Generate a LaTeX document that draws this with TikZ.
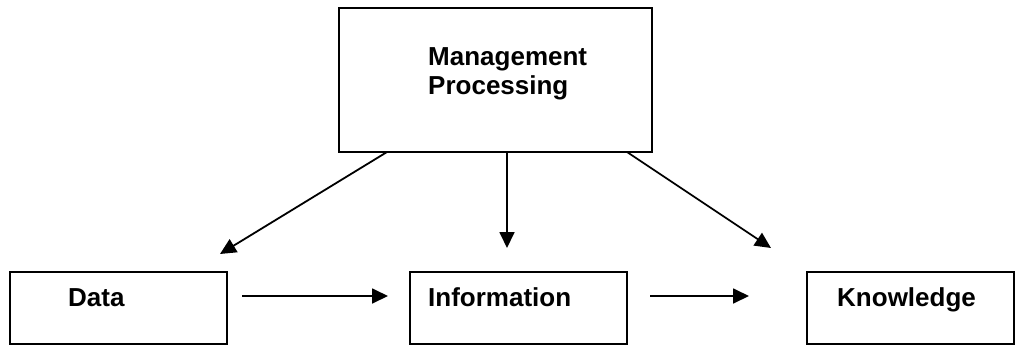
\documentclass[tikz,border=0pt]{standalone}
\usepackage{fontspec}
\setmainfont{Liberation Sans}
\usetikzlibrary{arrows.meta}
\begin{document}
\begin{tikzpicture}[x=1pt,y=-1pt,
  box/.style={draw=black,line width=2pt,rectangle,inner sep=0pt},
  lbl/.style={anchor=base west,inner sep=0pt,font=\fontsize{26}{29}\selectfont\bfseries},
  arr/.style={line width=1.8pt,-{Triangle[length=16pt,width=15pt]}}]
\useasboundingbox (0,0) rectangle (1015,346);
\fill[white] (0,0) rectangle (1015,346);
% boxes
\node[box,minimum width=313pt,minimum height=144pt] (top) at (495.5,80) {};
\node[box,minimum width=217pt,minimum height=72pt] (data) at (118.5,308) {};
\node[box,minimum width=217pt,minimum height=72pt] (info) at (518.5,308) {};
\node[box,minimum width=207pt,minimum height=72pt] (know) at (910.5,308) {};
% labels
\node[lbl] (mgmt) at (428,65) {Management};
\node[lbl] (proc) at (428,94) {Processing};
\node[lbl] (dlbl) at (68,306) {Data};
\node[lbl] (ilbl) at (428,306) {Information};
\node[lbl] (klbl) at (837,306) {Knowledge};
% arrow ends
\coordinate (s1) at (387,152);
\coordinate (e1) at (220,254);
\coordinate (s2) at (507,152);
\coordinate (e2) at (507,248);
\coordinate (s3) at (627,152);
\coordinate (e3) at (771,248);
\coordinate (s4) at (242,296);
\coordinate (e4) at (388,296);
\coordinate (s5) at (650,296);
\coordinate (e5) at (749,296);
\draw[arr] (s1) -- (e1);
\draw[arr] (s2) -- (e2);
\draw[arr] (s3) -- (e3);
\draw[arr] (s4) -- (e4);
\draw[arr] (s5) -- (e5);
\end{tikzpicture}
\end{document}
